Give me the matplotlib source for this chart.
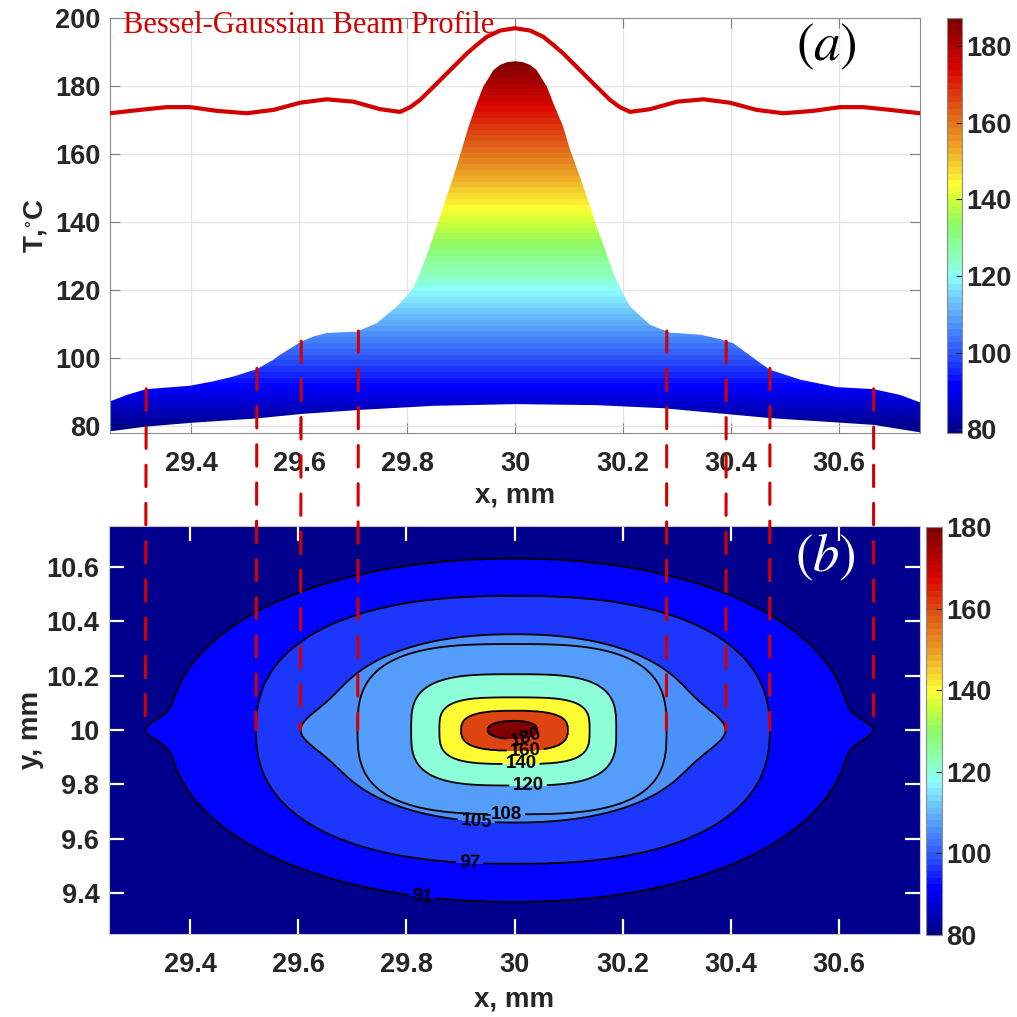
import numpy as np
import matplotlib
import matplotlib.pyplot as plt
from matplotlib.colors import Normalize, LinearSegmentedColormap
from matplotlib.patches import Polygon, ConnectionPatch
from matplotlib.ticker import FormatStrFormatter

plt.rcParams['font.family'] = ['Liberation Sans', 'DejaVu Sans']
plt.rcParams['mathtext.fontset'] = 'stix'

# ---- (a) surface seen from the side: upper edge = line y = 10 mm, lower edge = coolest row
x_top = [29.25, 29.281, 29.317, 29.398, 29.441, 29.478, 29.522, 29.552, 29.565, 29.604,
         29.627, 29.651, 29.676, 29.707, 29.744, 29.781, 29.796, 29.809, 29.824, 29.84,
         29.855, 29.87, 29.886, 29.901, 29.914, 29.929, 29.941, 29.96, 29.972, 29.985,
         30.0, 30.015, 30.028, 30.04, 30.059, 30.071, 30.089, 30.102, 30.12, 30.136,
         30.151, 30.167, 30.182, 30.198, 30.213, 30.25, 30.287, 30.343, 30.38, 30.404,
         30.454, 30.472, 30.528, 30.596, 30.664, 30.713, 30.75]
T_top = [87.3, 89.2, 90.9, 91.9, 93.2, 94.6, 96.8, 99.5, 101.0, 104.9,
         106.4, 107.4, 107.6, 107.8, 110.3, 115.2, 117.7, 120.1, 125.0, 131.8,
         138.7, 146.0, 153.4, 161.2, 168.1, 174.9, 179.8, 184.7, 186.2, 187.0,
         187.3, 187.0, 186.2, 184.7, 179.8, 174.9, 168.1, 161.2, 153.4, 146.0,
         138.7, 131.8, 125.0, 119.6, 115.2, 109.8, 107.5, 106.9, 105.6, 104.4,
         98.6, 96.6, 93.7, 91.5, 90.9, 89.2, 87.0]
x_low = [29.25, 29.317, 29.4, 29.522, 29.604, 29.712, 29.849, 30.0, 30.15, 30.274,
         30.39, 30.472, 30.664, 30.75]
T_low = [78.5, 79.9, 81.0, 82.3, 83.6, 84.8, 86.0, 86.5, 86.2, 85.3,
         83.6, 82.4, 80.4, 78.2]

# beam intensity, drawn in T-axis units
x_beam = [29.25, 29.306, 29.355, 29.398, 29.448, 29.503, 29.553, 29.602, 29.651, 29.701,
          29.75, 29.787, 29.806, 29.824, 29.849, 29.88, 29.911, 29.93, 29.948, 29.972,
          30.0, 30.028, 30.052, 30.07, 30.089, 30.12, 30.151, 30.176, 30.194, 30.213,
          30.25, 30.3, 30.349, 30.398, 30.447, 30.497, 30.552, 30.602, 30.645, 30.694, 30.75]
beam = [172.0, 173.0, 173.8, 173.8, 172.7, 172.0, 173.0, 175.1, 176.1, 175.4,
        173.2, 172.4, 173.8, 175.9, 179.8, 184.7, 189.6, 192.2, 194.5, 196.3,
        197.0, 196.3, 194.5, 192.2, 189.6, 184.7, 179.8, 175.9, 173.8, 172.4,
        173.2, 175.4, 176.1, 175.1, 173.0, 172.0, 172.7, 173.8, 173.8, 173.0, 172.0]

# ---- (b) isotherms: where each one crosses y = 10 mm and x = 30 mm
levels = [91, 97, 105, 108, 120, 140, 160, 180]
tip_left = [29.317, 29.522, 29.604, 29.710, 29.809, 29.861, 29.901, 29.950]
tip_right = [30.664, 30.472, 30.391, 30.281, 30.188, 30.139, 30.099, 30.043]
y_top = [10.630, 10.493, 10.352, 10.316, 10.205, 10.120, 10.071, 10.034]
y_bot = [9.368, 9.508, 9.660, 9.690, 9.796, 9.875, 9.924, 9.967]
tip_len = [0.044, 0.0, 0.05, 0.0, 0.0, 0.0, 0.0, 0.0]
tip_width = [0.05, 1.0, 0.09, 1.0, 1.0, 1.0, 1.0, 1.0]
shape_p = [2.1, 2.4, 2.2, 3.0, 3.3, 3.5, 2.8, 2.2]
label_xy = [(29.83, 9.39), (29.917, 9.514), (29.929, 9.655), (29.985, 9.688),
            (30.025, 9.797), (30.012, 9.876), (30.02, 9.928), (30.02, 9.978)]

# colour ramp of the temperature scale
ramp_pos = [0.0, 0.11, 0.17, 0.25, 0.30, 0.375, 0.40, 0.45, 0.50, 0.56,
            0.60, 0.65, 0.70, 0.80, 0.88, 1.0]
ramp_rgb = [(0.00, 0.00, 0.55), (0.00, 0.00, 1.00), (0.14, 0.26, 0.98), (0.29, 0.55, 0.98),
            (0.40, 0.72, 0.98), (0.55, 1.00, 1.00), (0.55, 1.00, 0.83), (0.55, 1.00, 0.62),
            (0.55, 0.98, 0.40), (0.80, 1.00, 0.22), (1.00, 1.00, 0.20), (0.96, 0.80, 0.18),
            (0.92, 0.62, 0.14), (0.87, 0.30, 0.08), (0.86, 0.02, 0.00), (0.50, 0.00, 0.00)]

xc, yc = 30.0, 10.0
red = '#d40000'
grey = '#262626'
cmap = LinearSegmentedColormap.from_list('temp', list(zip(ramp_pos, ramp_rgb)), N=64)


def bold_ticks(ax):
    for lbl in ax.get_xticklabels() + ax.get_yticklabels():
        lbl.set_fontweight('bold')


fig = plt.figure(figsize=(10.17, 10.17), dpi=100)

# ================= (a) =================
ax1 = fig.add_axes([0.1082, 0.5742, 0.7965, 0.4081])
norm_a = Normalize(79.0, max(T_top))
verts = list(zip(x_top, T_top)) + list(zip(x_low[::-1], T_low[::-1]))
surf = Polygon(verts, closed=True, facecolor='none', edgecolor='none')
ax1.add_patch(surf)
ramp = np.linspace(78, 200, 2000).reshape(-1, 1)
im = ax1.imshow(ramp, cmap=cmap, norm=norm_a, extent=[29.25, 30.75, 78, 200],
                origin='lower', aspect='auto', interpolation='nearest', zorder=1)
im.set_clip_path(surf)
ax1.plot(x_beam, beam, color=red, lw=3, zorder=3, solid_capstyle='round',
         solid_joinstyle='round')

ax1.set_xlim(29.25, 30.75)
ax1.set_ylim(78, 200)
ax1.set_xticks(np.arange(29.4, 30.61, 0.2))
ax1.set_yticks(np.arange(80, 201, 20))
ax1.xaxis.set_major_formatter(FormatStrFormatter('%g'))
ax1.grid(True, color='#e3e3e3', lw=0.9)
ax1.set_axisbelow(True)
ax1.tick_params(direction='in', length=7, width=0.8, color='#7f7f7f', labelsize=19.5,
                labelcolor=grey, top=True, right=True)
ax1.tick_params(axis='x', pad=13)
ax1.tick_params(axis='y', pad=7)
bold_ticks(ax1)
for s in ax1.spines.values():
    s.set_color('#8c8c8c')
ax1.set_xlabel('x, mm', fontsize=20, fontweight='bold', color=grey, labelpad=4)
ax1.set_ylabel(r'T,$^{\circ}$C', fontsize=20, fontweight='bold', color=grey, labelpad=4)
ax1.text(0.016, 0.964, 'Bessel-Gaussian Beam Profile', transform=ax1.transAxes,
         family='Liberation Serif', fontsize=22, color=red, va='baseline', zorder=4)
ax1.text(0.885, 0.931, r'$(a)$', transform=ax1.transAxes, fontsize=38,
         ha='center', va='center', color='k', zorder=4)

cax1 = fig.add_axes([0.9309, 0.5742, 0.0147, 0.4081])
cb1 = fig.colorbar(matplotlib.cm.ScalarMappable(norm=norm_a, cmap=cmap), cax=cax1,
                   ticks=np.arange(80, 181, 20))

# ================= (b) =================
ax2 = fig.add_axes([0.1072, 0.0816, 0.7974, 0.4012])
xg = np.linspace(29.25, 30.75, 701)
yg = np.linspace(9.25, 10.75, 701)
X, Y = np.meshgrid(xg, yg)
dx = X - xc
dy = Y - yc


def shape_radius(k):
    # superellipse of isotherm k (value 1 on the line), with the pointed tip along y = 10
    a = np.where(dx < 0, xc - tip_left[k], tip_right[k] - xc) - tip_len[k]
    a = a + tip_len[k] * np.exp(-(dy / tip_width[k]) ** 2)
    b = np.where(dy > 0, y_top[k] - yc, yc - y_bot[k])
    p = shape_p[k]
    return ((np.abs(dx) / a) ** p + (np.abs(dy) / b) ** p) ** (1.0 / p)


g = [shape_radius(k) for k in range(len(levels))]
T = np.clip(levels[0] - 20 * (g[0] - 1), 80, None)
with np.errstate(divide='ignore', invalid='ignore'):
    for k in range(len(levels) - 1):
        t = np.clip(np.nan_to_num((1 - g[k]) / (g[k + 1] - g[k])), 0, 1)
        T = np.where(g[k] <= 1, levels[k] + t * (levels[k + 1] - levels[k]), T)
T = np.where(g[-1] <= 1, levels[-1] + (max(T_top) - levels[-1]) * (1 - g[-1] ** 2), T)

norm_b = Normalize(80, 180)
fill_levels = [60] + levels + [250]
fill_colors = [cmap(norm_b(v)) for v in [80] + levels]
ax2.contourf(X, Y, T, levels=fill_levels, colors=fill_colors)
cs = ax2.contour(X, Y, T, levels=levels, colors='k', linewidths=1.3)
lbls = ax2.clabel(cs, fmt='%d', fontsize=13.5, inline=True, inline_spacing=3, manual=label_xy)
for lb in lbls:
    lb.set_fontweight('bold')

ax2.set_xlim(29.25, 30.75)
ax2.set_ylim(9.25, 10.75)
ax2.set_xticks(np.arange(29.4, 30.61, 0.2))
ax2.set_yticks(np.arange(9.4, 10.61, 0.2))
ax2.xaxis.set_major_formatter(FormatStrFormatter('%g'))
ax2.yaxis.set_major_formatter(FormatStrFormatter('%g'))
ax2.tick_params(direction='in', length=11, width=1.6, color='white', labelsize=19.5,
                labelcolor=grey, top=True, right=True)
ax2.tick_params(axis='x', pad=13)
ax2.tick_params(axis='y', pad=7)
bold_ticks(ax2)
for s in ax2.spines.values():
    s.set_color('#c8c8c8')
ax2.set_xlabel('x, mm', fontsize=20, fontweight='bold', color=grey, labelpad=6)
ax2.set_ylabel('y, mm', fontsize=20, fontweight='bold', color=grey, labelpad=2)
ax2.text(0.884, 0.924, r'$(b)$', transform=ax2.transAxes, fontsize=38,
         ha='center', va='center', color='white', zorder=4)

cax2 = fig.add_axes([0.9105, 0.0806, 0.0154, 0.4012])
cb2 = fig.colorbar(matplotlib.cm.ScalarMappable(norm=norm_b, cmap=cmap), cax=cax2,
                   ticks=np.arange(80, 181, 20))

for cb in (cb1, cb2):
    cb.ax.tick_params(direction='in', length=4, width=0.8, color=grey, labelsize=19.5,
                      labelcolor=grey)
    bold_ticks(cb.ax)
    cb.outline.set_edgecolor('#8c8c8c')
    cb.outline.set_linewidth(0.8)

# guide lines from the shoulders of (a) down to the isotherm tips in (b)
guide_x = tip_left[:4] + tip_right[:4]
guide_T = levels[:4] + levels[:4]
for xv, tv in zip(guide_x, guide_T):
    con = ConnectionPatch(xyA=(xv, tv), coordsA=ax1.transData,
                          xyB=(xv, yc), coordsB=ax2.transData,
                          color=red, lw=2.2, linestyle=(0, (7, 5.5)), zorder=5)
    fig.add_artist(con)

fig.savefig('out.png', dpi=100)
